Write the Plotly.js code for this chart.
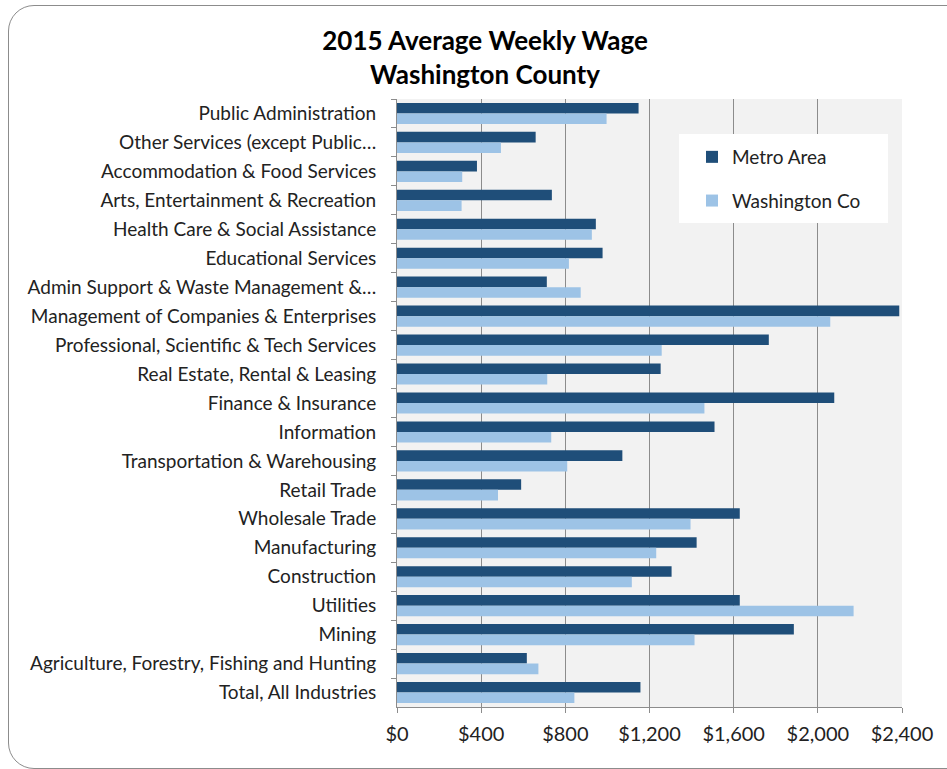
<!DOCTYPE html>
<html>
<head>
<meta charset="utf-8">
<script src="https://cdn.plot.ly/plotly-3.0.1.min.js"></script>
<style>
  html, body { margin: 0; padding: 0; background: #ffffff; overflow: hidden; }
  #frame { position: absolute; left: 8px; top: 5px; width: 980px; height: 764px;
           border: 1.5px solid #8c8c8c; border-radius: 26px; box-sizing: border-box; }
  #chart { position: absolute; left: 0; top: 0; width: 947px; height: 769px; }
</style>
</head>
<body>
<div id="frame"></div>
<div id="chart"></div>
<script>
// Categories, top to bottom as shown
const industries = [
  "Public Administration",
  "Other Services (except Public…",
  "Accommodation & Food Services",
  "Arts, Entertainment & Recreation",
  "Health Care & Social Assistance",
  "Educational Services",
  "Admin Support & Waste Management &…",
  "Management of Companies & Enterprises",
  "Professional, Scientific & Tech Services",
  "Real Estate, Rental & Leasing",
  "Finance & Insurance",
  "Information",
  "Transportation & Warehousing",
  "Retail Trade",
  "Wholesale Trade",
  "Manufacturing",
  "Construction",
  "Utilities",
  "Mining",
  "Agriculture, Forestry, Fishing and Hunting",
  "Total, All Industries"
];

const metroArea = [1148, 659, 380, 736, 945, 977, 712, 2387, 1767, 1253, 2078, 1509, 1071, 590, 1629, 1424, 1305, 1629, 1886, 617, 1157];
const washingtonCo = [996, 494, 310, 307, 926, 817, 873, 2059, 1258, 714, 1461, 733, 809, 480, 1395, 1232, 1116, 2170, 1414, 672, 843];

const xTickVals = [0, 400, 800, 1200, 1600, 2000, 2400];
const xTickText = ["$0", "$400", "$800", "$1,200", "$1,600", "$2,000", "$2,400"];

const FONT = "Lato, 'Open Sans', sans-serif";

const traces = [
  {
    type: "bar", orientation: "h", name: "Metro Area",
    x: metroArea, y: industries,
    marker: { color: "#1F4E79", line: { width: 0 } },
    legendgroup: "a", hoverinfo: "x+y"
  },
  {
    type: "bar", orientation: "h", name: "Washington Co",
    x: washingtonCo, y: industries,
    marker: { color: "#9DC3E6", line: { width: 0 } },
    legendgroup: "b", hoverinfo: "x+y"
  }
];

const L = 397, R = 902, T = 99, B = 707;
function px2paperX(p) { return (p - L) / (R - L); }
function px2paperY(p) { return (B - p) / (B - T); }

const layout = {
  width: 947, height: 769,
  margin: { l: L, r: 947 - R, t: T, b: 769 - B, pad: 0 },
  paper_bgcolor: "rgba(0,0,0,0)",
  plot_bgcolor: "#F2F2F2",
  font: { family: FONT, color: "#222222", size: 19 },
  title: {
    text: "<b>2015 Average Weekly Wage</b><br><b>Washington County</b>",
    font: { family: FONT, size: 26, color: "#000000" },
    x: 485 / 947, xanchor: "center", xref: "container",
    y: 1 - 50 / 769, yanchor: "middle", yref: "container"
  },
  barmode: "group",
  bargap: 0.27,
  bargroupgap: 0,
  showlegend: true,
  legend: {
    x: px2paperX(692), y: px2paperY(138), xanchor: "left", yanchor: "top",
    bgcolor: "rgba(0,0,0,0)", borderwidth: 0,
    tracegroupgap: 16,
    font: { family: FONT, size: 19, color: "#222222" }
  },
  xaxis: {
    range: [0, 2400],
    tickmode: "array", tickvals: xTickVals, ticktext: xTickText,
    showgrid: true, gridcolor: "#8c8c8c", gridwidth: 1,
    zeroline: false,
    showline: true, linecolor: "#8c8c8c", linewidth: 1,
    ticks: "outside", ticklen: 5, tickcolor: "#8c8c8c",
    ticklabelstandoff: 4,
    tickfont: { family: FONT, size: 20, color: "#222222" },
    fixedrange: true
  },
  yaxis: {
    type: "category",
    autorange: "reversed",
    showgrid: false, zeroline: false,
    showline: true, linecolor: "#8c8c8c", linewidth: 1,
    ticks: "outside", ticklen: 5, tickcolor: "#8c8c8c",
    tickson: "boundaries",
    ticklabelstandoff: 16,
    tickfont: { family: FONT, size: 19, color: "#222222" },
    fixedrange: true
  },
  shapes: [
    {
      type: "rect", xref: "paper", yref: "paper", layer: "above",
      x0: px2paperX(679), x1: px2paperX(888), y0: px2paperY(223), y1: px2paperY(134),
      fillcolor: "#ffffff", line: { width: 0 }
    }
  ]
};

Plotly.newPlot("chart", traces, layout, { displayModeBar: false, staticPlot: true });
</script>
</body>
</html>
